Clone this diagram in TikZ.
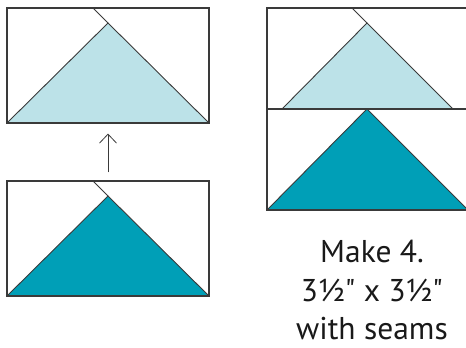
\documentclass[tikz,border=0pt]{standalone}
\usepackage{fontspec}
\setmainfont{PT Sans}[Ligatures=TeXOff]
\usetikzlibrary{arrows.meta}
\definecolor{lightblue}{HTML}{BCE2E8}
\definecolor{teal}{HTML}{009FB7}
\definecolor{seam}{HTML}{3A3A3A}
\tikzset{
  block/.style={draw=seam, line width=1.1pt, rectangle, inner sep=0pt},
  tri/.style={draw=seam, line width=0.9pt, line join=miter},
  seamline/.style={draw=seam, line width=0.9pt},
  lbl/.style={anchor=base, font=\fontsize{31.5}{40}\selectfont, text=black!90, inner sep=0pt},
}
\begin{document}
\begin{tikzpicture}[x=1pt,y=-1pt]
\useasboundingbox (0,0) rectangle (466,348);
% top-left unit
\fill[lightblue] (7,123) -- (108,23) -- (209,123) -- cycle;
\draw[tri] (7,123) -- (108,23) -- (209,123);
\draw[seamline] (93,8) -- (108,23);
\node[block, minimum width=202pt, minimum height=115pt] (tl) at (108,65.5) {};
% bottom-left unit
\fill[teal] (7,296) -- (108,196) -- (209,296) -- cycle;
\draw[tri] (7,296) -- (108,196) -- (209,296);
\draw[seamline] (93,181) -- (108,196);
\node[block, minimum width=202pt, minimum height=115pt] (bl) at (108,238.5) {};
% arrow
\draw[line width=0.8pt, seam, -{Straight Barb[length=9pt,width=17pt]}, shorten <=8pt, shorten >=10pt] (bl.north) -- (tl.south);
% right block
\fill[lightblue] (282,109) -- (367,23) -- (453,109) -- cycle;
\draw[tri] (282,109) -- (367,23) -- (453,109);
\draw[seamline] (352,8) -- (367,23);
\fill[teal] (267,210) -- (367,109) -- (468,210) -- cycle;
\draw[tri] (267,210) -- (367,109) -- (468,210);
\node[block, minimum width=204pt, minimum height=202pt] (rb) at (369,109) {};
\coordinate (ml) at (rb.west);
\coordinate (mr) at (rb.east);
\draw[block] (ml) -- (mr);
% text
\node[lbl] (t1) at (372,262) {Make 4.};
\node[lbl] (t2) at (372,301) {3½" x 3½"};
\node[lbl] (t3) at (372,339) {with seams};
\end{tikzpicture}
\end{document}
